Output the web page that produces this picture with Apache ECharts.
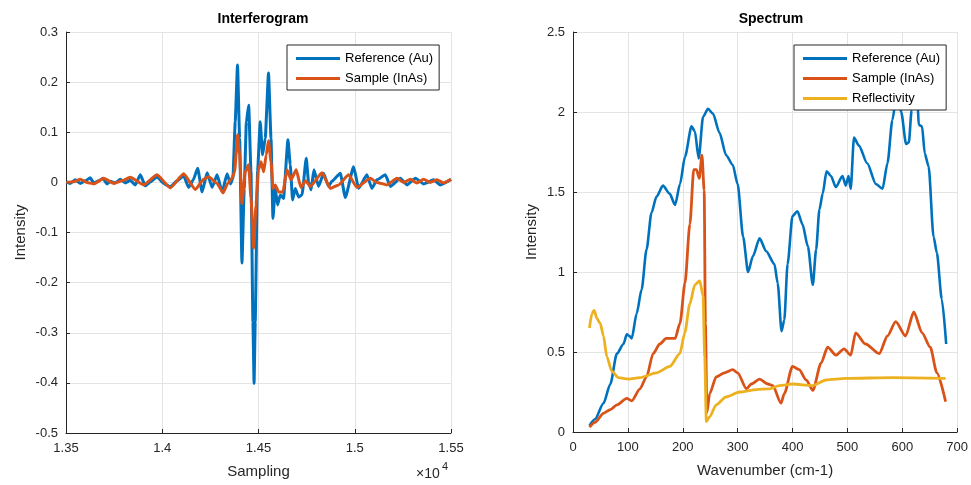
<!DOCTYPE html>
<html>
<head>
<meta charset="utf-8">
<script src="https://cdn.jsdelivr.net/npm/echarts@6/dist/echarts.min.js"></script>
<style>html,body{margin:0;padding:0;background:#fff;}#c{width:971px;height:485px;}</style>
</head>
<body>
<div id="c"></div>
<script>
// ---------- Interferogram data ----------
var ifgRefS = [13502,13522,13548,13574,13600,13626,13644,13670,13692,13713,13730,13756,13782,13808,13834,13860,13886,13912,13938,13973,14007,14042,14077,14111,14137,14160,14184,14207,14233,14259,14285,14311,14337,14354,14367,14379,14391,14402,14414,14426,14437,14449,14461,14471,14477,14483,14495,14509,14521,14535,14552,14565,14575,14587,14599,14613,14630,14653,14665,14677,14691,14708,14726,14748,14760,14773,14788,14812,14838,14864,14881,14925,14951,14994,15020,15063,15089,15115,15159,15185,15237,15271,15315,15358,15410,15444,15500];
var ifgRefI = [0.001,-0.002,0.005,-0.002,0.003,0.009,-0.001,0.003,0.008,-0.003,0.002,-0.001,0.006,-0.001,0.004,-0.005,0.015,-0.007,0.001,0.011,-0.002,-0.009,0.003,0.013,-0.010,0.004,0.028,-0.019,0.019,-0.010,0.015,-0.019,0.017,-0.003,0.008,0.121,0.234,0.088,-0.161,-0.012,0.121,0.154,0.021,-0.278,-0.401,-0.278,0.021,0.121,0.055,0.088,0.218,0.088,-0.072,-0.012,-0.045,-0.025,-0.032,0.085,0.035,-0.035,-0.012,-0.029,-0.025,0.048,0.001,-0.015,0.025,-0.008,0.018,-0.008,0.002,0.018,-0.030,0.031,-0.012,0.015,-0.012,0.005,0.015,-0.008,0.008,-0.005,0.008,-0.003,0.005,-0.005,0.006];
var ifgSamS = [13502,13540,13574,13609,13644,13696,13748,13791,13834,13903,13973,14042,14111,14172,14215,14241,14285,14316,14340,14362,14376,14391,14402,14414,14431,14449,14461,14475,14487,14500,14513,14527,14540,14552,14565,14575,14587,14604,14627,14648,14669,14696,14720,14745,14769,14830,14873,14916,14968,15011,15081,15115,15167,15219,15254,15289,15323,15358,15392,15427,15462,15500];
var ifgSamI = [0,0.001,0.006,0.0,-0.003,0.008,-0.002,0.003,0.010,-0.005,0.015,-0.011,0.017,-0.014,0.006,0.011,-0.002,-0.021,-0.002,0.008,0.021,0.095,0.055,-0.042,0.021,0.035,-0.032,-0.131,-0.045,0.025,0.041,0.021,0.055,0.083,0.041,-0.012,-0.005,-0.019,-0.019,0.025,0.005,0.025,-0.010,0.003,-0.008,0.019,-0.012,-0.005,0.015,-0.010,0.008,0.0,-0.005,0.008,0.0,0.006,-0.001,0.006,0.0,0.005,-0.001,0.006];

// ---------- Spectrum data ----------
var specRefW = [30,40,55.6,68,80,92,98,103,107,116,125,134,143,152,164,176,186,195,204,216,222,229,237,246,255,267,279,291,300,310,319,328,340,352,367,373,380,385,391,400,409,418,428,437,443,449,455,462,470,479,491,497,502,506,512,521,536,552,564,573,582,590,598,607,612,617,622,628,630,636,641,648,657,663,672,680];
var specRefI = [0.04,0.08,0.18,0.30,0.49,0.55,0.61,0.60,0.585,0.74,0.89,1.14,1.37,1.47,1.54,1.49,1.42,1.55,1.72,1.91,1.88,1.71,1.97,2.02,1.99,1.87,1.73,1.67,1.55,1.22,1.00,1.10,1.21,1.13,1.05,0.93,0.63,0.70,1.05,1.35,1.38,1.30,1.16,0.92,1.14,1.39,1.49,1.63,1.60,1.53,1.60,1.54,1.60,1.52,1.84,1.79,1.68,1.55,1.52,1.68,1.95,2.12,2.0,1.80,1.81,2.01,2.18,2.05,1.92,1.91,1.74,1.66,1.22,1.12,0.83,0.55];
var specSamW = [30,40,55.5,68,80,98,107,122,134,146,158,170,186,195,204,213,220,225,230,235,239,241.3,244,249,261,276,291,300,316,325,340,355,364,379,385,400,412,425,437,452,464,479,494,506,515,533,558,573,588,606,621,636,651,663,679];
var specSamI = [0.03,0.06,0.117,0.14,0.17,0.21,0.195,0.27,0.345,0.49,0.55,0.585,0.585,0.68,0.93,1.30,1.64,1.64,1.585,1.73,1.51,0.68,0.12,0.24,0.345,0.37,0.39,0.37,0.27,0.30,0.33,0.30,0.29,0.18,0.24,0.41,0.39,0.325,0.26,0.43,0.53,0.48,0.52,0.48,0.62,0.55,0.49,0.60,0.69,0.60,0.75,0.62,0.53,0.37,0.19];
var specReflW = [30,34.5,38.6,43.5,49.5,55.5,61.7,70.7,82.8,101,122,152,176.5,194.7,203.7,212.8,222,231,237,240,243,249,261,279,303.5,334,358,376,400,436.5,461,497,582,679];
var specReflI = [0.65,0.74,0.76,0.71,0.68,0.60,0.47,0.38,0.34,0.33,0.34,0.37,0.41,0.49,0.62,0.80,0.92,0.945,0.85,0.47,0.065,0.095,0.17,0.22,0.25,0.265,0.27,0.29,0.30,0.29,0.325,0.335,0.34,0.335];

var ifgTitle = 'Interferogram';
var specTitle = 'Spectrum';
var seriesNames = ['Reference (Au)', 'Sample (InAs)', 'Reflectivity'];

function zip(a, b) { return a.map(function (v, i) { return [v, b[i]]; }); }

var FONT = '"Liberation Sans", Arial, Helvetica, sans-serif';
var AX = '#262626';
var GRIDC = '#e3e3e3';
var C = ['#0072BD', '#D95319', '#EDB120'];

function axisCommon(extra) {
  var o = {
    type: 'value',
    axisLine: { show: true, onZero: false, lineStyle: { color: AX, width: 1 } },
    axisTick: { show: true, inside: true, length: 4, lineStyle: { color: AX } },
    splitLine: { show: true, lineStyle: { color: GRIDC, width: 1 } },
    axisLabel: { color: AX, fontSize: 13, fontFamily: FONT },
    nameTextStyle: { color: AX, fontSize: 15, fontFamily: FONT },
    nameLocation: 'middle'
  };
  for (var k in extra) o[k] = extra[k];
  return o;
}

var chart = echarts.init(document.getElementById('c'), null, { renderer: 'canvas' });
var legendCommon = {
  orient: 'vertical',
  itemWidth: 44, itemHeight: 3, icon: 'rect', itemGap: 5,
  padding: [6, 6, 4, 9],
  backgroundColor: '#fff', borderColor: AX, borderWidth: 1, borderRadius: 0,
  textStyle: { color: '#000', fontSize: 13, fontFamily: FONT, lineHeight: 15 },
  z: 10, selectedMode: false
};
function L(extra) { var o = {}; for (var k in legendCommon) o[k] = legendCommon[k]; for (var j in extra) o[j] = extra[j]; return o; }

var specLine = function (i, z, w, d) {
  return { name: seriesNames[i], type: 'line', xAxisIndex: 1, yAxisIndex: 1, data: d, showSymbol: false, symbol: 'none',
    smooth: 0.25, smoothMonotone: 'x', lineStyle: { color: C[i], width: w }, itemStyle: { color: C[i] }, z: z };
};

chart.setOption({
  animation: false,
  backgroundColor: '#fff',
  title: [
    { text: ifgTitle, left: 258, top: 7, textAlign: 'center', textStyle: { fontSize: 14, fontWeight: 'bold', color: '#000', fontFamily: FONT } },
    { text: specTitle, left: 766, top: 7, textAlign: 'center', textStyle: { fontSize: 14, fontWeight: 'bold', color: '#000', fontFamily: FONT } }
  ],
  grid: [
    { left: 66, top: 32, width: 385, height: 401, containLabel: false },
    { left: 573, top: 32, width: 386, height: 400, containLabel: false }
  ],
  legend: [
    L({ left: 287, top: 45, data: [seriesNames[0], seriesNames[1]] }),
    L({ left: 794, top: 45, data: [seriesNames[0], seriesNames[1], seriesNames[2]] })
  ],
  xAxis: [
    axisCommon({ gridIndex: 0, min: 13500, max: 15500, interval: 500, name: 'Sampling', nameGap: 31,
      axisLabel: { color: AX, fontSize: 13, fontFamily: FONT, margin: 9, formatter: function (v) { return String(parseFloat((v / 1e4).toFixed(3))); } } }),
    axisCommon({ gridIndex: 1, min: 0, max: 700, interval: 100, name: 'Wavenumber (cm-1)', nameGap: 31,
      axisLabel: { color: AX, fontSize: 13, fontFamily: FONT, margin: 9 } })
  ],
  yAxis: [
    axisCommon({ gridIndex: 0, min: -0.5, max: 0.3, interval: 0.1, name: 'Intensity', nameGap: 38,
      axisLabel: { color: AX, fontSize: 13, fontFamily: FONT, margin: 8, formatter: function (v) { return String(Math.round(v * 10) / 10); } } }),
    axisCommon({ gridIndex: 1, min: 0, max: 2.5, interval: 0.5, name: 'Intensity', nameGap: 34,
      axisLabel: { color: AX, fontSize: 13, fontFamily: FONT, margin: 8, formatter: function (v) { return String(Math.round(v * 10) / 10); } } })
  ],
  graphic: [
    { type: 'text', left: 416, top: 467, style: { text: '×10', fontSize: 14, fontFamily: FONT, fill: AX } },
    { type: 'text', left: 442, top: 461, style: { text: '4', fontSize: 11, fontFamily: FONT, fill: AX } }
  ],
  series: [
    { name: seriesNames[0], type: 'line', xAxisIndex: 0, yAxisIndex: 0, data: zip(ifgRefS, ifgRefI), showSymbol: false, symbol: 'none', smooth: 0.15, smoothMonotone: 'x', lineStyle: { color: C[0], width: 3 }, itemStyle: { color: C[0] }, z: 2 },
    { name: seriesNames[1], type: 'line', xAxisIndex: 0, yAxisIndex: 0, data: zip(ifgSamS, ifgSamI), showSymbol: false, symbol: 'none', smooth: 0.15, smoothMonotone: 'x', lineStyle: { color: C[1], width: 3 }, itemStyle: { color: C[1] }, z: 3 },
    specLine(0, 2, 2.6, zip(specRefW, specRefI)),
    specLine(1, 3, 2.8, zip(specSamW, specSamI)),
    specLine(2, 4, 2.8, zip(specReflW, specReflI))
  ]
});
</script>
</body>
</html>
